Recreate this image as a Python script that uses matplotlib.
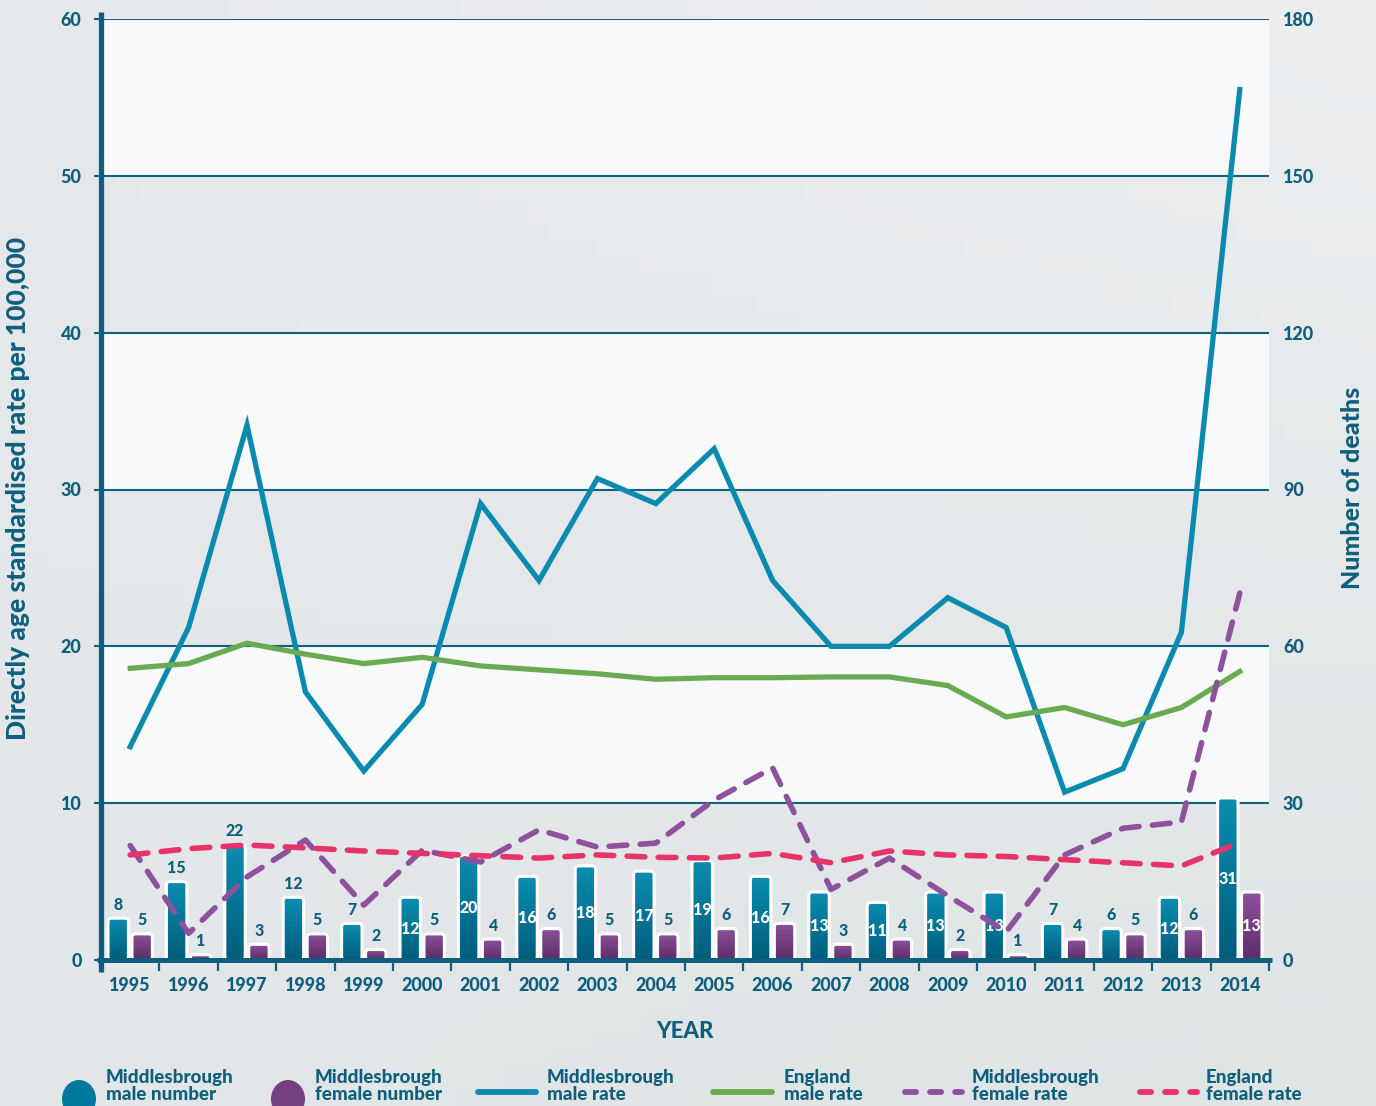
import numpy as np
import matplotlib
matplotlib.use("Agg")
import matplotlib.pyplot as plt
from matplotlib.patches import FancyBboxPatch, Ellipse
from matplotlib.lines import Line2D
from matplotlib.colors import LinearSegmentedColormap, to_rgb

# deaths and rates, Middlesbrough vs England
years = [str(y) for y in range(1995, 2015)]
male_number = [8, 15, 22, 12, 7, 12, 20, 16, 18, 17, 19, 16, 13, 11, 13, 13, 7, 6, 12, 31]
female_number = [5, 1, 3, 5, 2, 5, 4, 6, 5, 5, 6, 7, 3, 4, 2, 1, 4, 5, 6, 13]
male_rate = [13.6, 21.2, 34.1, 17.1, 12.05, 16.3, 29.1, 24.2, 30.7, 29.1,
             32.6, 24.2, 20.0, 20.0, 23.1, 21.2, 10.7, 12.2, 20.9, 55.5]
england_male_rate = [18.6, 18.9, 20.2, 19.5, 18.9, 19.3, 18.75, 18.5, 18.25, 17.9,
                     18.0, 18.0, 18.05, 18.05, 17.5, 15.5, 16.1, 15.0, 16.1, 18.4]
female_rate = [7.3, 1.7, 5.3, 7.65, 3.5, 7.0, 6.25, 8.3, 7.2, 7.45,
               10.2, 12.25, 4.5, 6.5, 4.1, 1.8, 6.7, 8.4, 8.8, 23.4]
england_female_rate = [6.7, 7.1, 7.33, 7.15, 6.95, 6.8, 6.65, 6.5, 6.7, 6.55,
                       6.5, 6.8, 6.2, 6.95, 6.7, 6.6, 6.4, 6.2, 6.0, 7.5]

# where a count label sits inside its bar (white) instead of above it
male_label_inside = [False, False, False, False, False, True, True, True, True, True,
                     True, True, True, True, True, True, False, False, True, True]
female_label_inside = [False] * 19 + [True]

TEAL = "#0d5f7c"
MALE_TOP, MALE_BOT = "#0a8db0", "#005d7c"
FEM_TOP, FEM_BOT = "#8d519a", "#5c2c68"
C_MALE = "#0a8aae"
C_ENG_M = "#6aab52"
C_FEM = "#8e519b"
C_ENG_F = "#e6336a"
WT = "black"

plt.rcParams["font.family"] = ["Lato", "DejaVu Sans"]
plt.rcParams["font.weight"] = WT

W, H = 1376, 1106
fig = plt.figure(figsize=(W / 100, H / 100), dpi=100)

# soft grey background wash
bg = fig.add_axes([0, 0, 1, 1], zorder=-10)
bg.axis("off")
tl, tr = np.array(to_rgb("#e6e9ec")), np.array(to_rgb("#eceef0"))
bl, br = np.array(to_rgb("#e3e7e9")), np.array(to_rgb("#dfe4e5"))
u = np.linspace(0, 1, 60)[None, :, None]
v = np.linspace(0, 1, 60)[:, None, None]
wash = (1 - v) * ((1 - u) * tl + u * tr) + v * ((1 - u) * bl + u * br)
bg.imshow(wash, extent=[0, 1, 0, 1], aspect="auto", origin="upper")
bg.set_xlim(0, 1)
bg.set_ylim(0, 1)

def px(x, y):
    return x / W, 1 - y / H

left, right, top, bottom = 101, 1269, 19, 960
rect = [left / W, 1 - bottom / H, (right - left) / W, (bottom - top) / H]
ax = fig.add_axes(rect)
ax_n = ax.twinx()
ax.set_zorder(ax_n.get_zorder() + 1)
ax.patch.set_visible(False)
ax_n.patch.set_visible(False)

x = np.arange(len(years))

# count axis: white bands, grid and bars
ax_n.set_ylim(0, 180)
ax_n.set_xlim(-0.5, len(years) - 0.5)
for lo in (30, 90, 150):
    ax_n.axhspan(lo, lo + 30, color="#f8f9fa", zorder=0, lw=0)
for yv in range(30, 181, 30):
    ax_n.axhline(yv, color="#0d6381", lw=1.5, zorder=1)

bar_w = 0.35
off = 0.205
px_per_x = (right - left) / len(years)
px_per_y = (bottom - top) / 180
asp = (3.5 / px_per_y) / (3.5 / px_per_x)
r0 = 3.5 / px_per_x


def gradient_bar(axis, xc, h, c_top, c_bot):
    r = min(r0, h / asp / 2.2)
    patch = FancyBboxPatch((xc - bar_w / 2, 0), bar_w, h,
                           boxstyle=f"round,pad=0,rounding_size={r}",
                           mutation_aspect=asp, fc="none", ec="white",
                           lw=2.2, zorder=3)
    axis.add_patch(patch)
    cmap = LinearSegmentedColormap.from_list("g", [c_bot, c_top])
    im = axis.imshow(np.linspace(0, 1, 64).reshape(-1, 1),
                     extent=[xc - bar_w / 2, xc + bar_w / 2, 0, h],
                     origin="lower", cmap=cmap, aspect="auto", zorder=2.9)
    im.set_clip_path(patch)


def count_label(axis, xc, h, inside):
    if inside:
        axis.text(xc, h / 2, str(h), ha="center", va="center", color="white",
                  fontsize=11.5, fontweight=WT, zorder=4)
    else:
        axis.annotate(str(h), (xc, h), xytext=(0, 4), textcoords="offset points",
                      ha="center", va="bottom", color=TEAL, fontsize=11.5,
                      fontweight=WT, zorder=4)


for i in range(len(years)):
    gradient_bar(ax_n, x[i] - off, male_number[i], MALE_TOP, MALE_BOT)
    gradient_bar(ax_n, x[i] + off, female_number[i], FEM_TOP, FEM_BOT)
    count_label(ax_n, x[i] - off, male_number[i], male_label_inside[i])
    count_label(ax_n, x[i] + off, female_number[i], female_label_inside[i])

ax_n.set_xlim(-0.5, len(years) - 0.5)
ax_n.set_ylim(0, 180)
ax_n.set_yticks(range(0, 181, 30))
ax_n.tick_params(axis="y", length=0, pad=10, labelsize=13, labelcolor=TEAL)
for s in ax_n.spines.values():
    s.set_visible(False)

# rate axis: lines
dash = (3.2, 2.4)
ax.plot(x, male_rate, color=C_MALE, lw=3.8, solid_joinstyle="miter", zorder=5)
ax.plot(x, england_male_rate, color=C_ENG_M, lw=3.8, zorder=5)
ax.plot(x, female_rate, color=C_FEM, lw=4, dashes=dash,
        dash_capstyle="round", zorder=6)
ax.plot(x, england_female_rate, color=C_ENG_F, lw=4, dashes=dash,
        dash_capstyle="round", zorder=6)

ax.set_xlim(-0.5, len(years) - 0.5)
ax.set_ylim(0, 60)
ax.set_yticks(range(0, 61, 10))
ax.tick_params(axis="y", length=5, width=1.5, color=TEAL, pad=9,
               labelsize=13, labelcolor=TEAL)
ax.set_xticks(np.arange(-0.5, len(years)), labels=[])
ax.set_xticks(x, labels=years, minor=True)
ax.tick_params(axis="x", which="major", length=8, width=1.6, color=TEAL)
ax.tick_params(axis="x", which="minor", length=0, pad=12, labelsize=13,
               labelcolor=TEAL)
for s in ax.spines.values():
    s.set_visible(False)

# heavy axis lines
ax.plot([0, 0], [-0.0128, 1.0074], transform=ax.transAxes, color="#0b5f7c",
        lw=3.8, solid_capstyle="butt", clip_on=False, zorder=8)
ax.plot([-0.0034, 1.0026], [0, 0], transform=ax.transAxes, color="#0b5f7c",
        lw=3.6, solid_capstyle="butt", clip_on=False, zorder=8)

# axis titles
fig.text(*px(18, 488), "Directly age standardised rate per 100,000", rotation=90,
         ha="center", va="center", color=TEAL, fontsize=19, fontweight=WT)
fig.text(*px(1352, 488), "Number of deaths", rotation=90,
         ha="center", va="center", color=TEAL, fontsize=18, fontweight=WT)
fig.text(*px(685, 1031), "YEAR", ha="center", va="center", color=TEAL,
         fontsize=16, fontweight=WT)

# legend row along the bottom
legend_y = 1086
circles = [(79, "#00789c", "Middlesbrough\nmale number", 106),
           (288, "#774081", "Middlesbrough\nfemale number", 315)]
for cx, c, label, tx in circles:
    fig.add_artist(Ellipse(px(cx, 1099), 34 / W, 38 / H, transform=fig.transFigure,
                           fc=c, ec="none"))
    fig.text(*px(tx, legend_y), label, ha="left", va="center", color=TEAL,
             fontsize=13.5, fontweight=WT, linespacing=1.0)

lines = [(478, 536, C_MALE, None, "Middlesbrough\nmale rate", 547),
         (713, 772, C_ENG_M, None, "England\nmale rate", 784),
         (905, 962, C_FEM, (1.9, 2.4), "Middlesbrough\nfemale rate", 972),
         (1140, 1197, C_ENG_F, (1.9, 2.4), "England\nfemale rate", 1206)]
for x0, x1, c, d, label, tx in lines:
    a, yy = px(x0, 1092)
    b, _ = px(x1, 1092)
    ln = Line2D([a, b], [yy, yy], transform=fig.transFigure, color=c, lw=4.2,
                solid_capstyle="round", dash_capstyle="round")
    if d is not None:
        ln.set_dashes(d)
    fig.add_artist(ln)
    fig.text(*px(tx, legend_y), label, ha="left", va="center", color=TEAL,
             fontsize=13.5, fontweight=WT, linespacing=1.0)

fig.savefig("out.png", dpi=100, facecolor="#e4e8ea")
